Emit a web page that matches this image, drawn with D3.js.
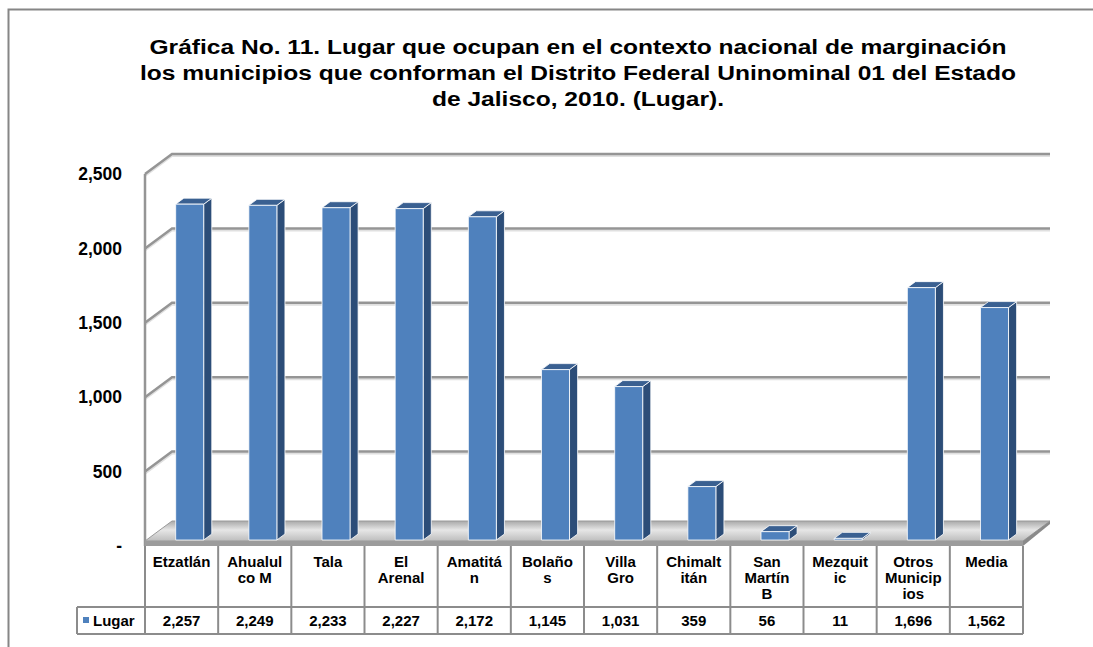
<!DOCTYPE html>
<html>
<head>
<meta charset="utf-8">
<script src="https://cdn.jsdelivr.net/npm/d3@7"></script>
<style>
  body { margin: 0; background: #fff; }
  svg { display: block; font-family: Arial, "Liberation Sans", sans-serif; }
</style>
</head>
<body>
<div id="chart"></div>
<script>
var svgWidth = 1093;
var svgHeight = 647;

var titleLines = [
    "Gráfica No. 11. Lugar que ocupan en el contexto nacional de marginación",
    "los municipios que conforman el Distrito Federal Uninominal 01 del Estado",
    "de Jalisco, 2010. (Lugar)."
];

var categories = ["Etzatlán", "Ahualulco M", "Tala", "El Arenal", "Amatitán", "Bolaños",
    "Villa Gro", "Chimaltitán", "San Martín B", "Mezquitic", "Otros Municipios", "Media"];

// tick labels as they wrap in the table cells
var categoryLines = [["Etzatlán"], ["Ahualul", "co M"], ["Tala"], ["El", "Arenal"], ["Amatitá", "n"],
    ["Bolaño", "s"], ["Villa", "Gro"], ["Chimalt", "itán"], ["San", "Martín", "B"], ["Mezquit", "ic"],
    ["Otros", "Municip", "ios"], ["Media"]];

var lugar = [2257, 2249, 2233, 2227, 2172, 1145, 1031, 359, 56, 11, 1696, 1562];

var seriesName = "Lugar";
var yTicks = [0, 500, 1000, 1500, 2000, 2500];

// plot geometry
var plot = { left: 145, right: 1023, zero: 546, top: 174 };
var depth = { dx: 27, dy: -20 };
var table = { top: 546, mid: 607, bottom: 634, legendLeft: 77 };

var svg = d3.select("#chart")
    .append("svg")
    .attr("width", svgWidth)
    .attr("height", svgHeight);

// outer frame
svg.append("rect")
    .attr("x", 8.5)
    .attr("y", 9.5)
    .attr("width", svgWidth)
    .attr("height", svgHeight)
    .attr("fill", "none")
    .attr("stroke", "#868686")
    .attr("stroke-width", 2);

// title (the original is set a bit wide, so stretch it sideways)
svg.append("g")
    .attr("transform", "translate(578,0) scale(1.17,1)")
    .append("text")
    .attr("x", 0)
    .attr("y", 54)
    .attr("text-anchor", "middle")
    .attr("font-weight", "bold")
    .attr("font-size", 21)
    .attr("fill", "#000")
    .selectAll("tspan")
    .data(titleLines)
    .enter()
    .append("tspan")
    .attr("x", 0)
    .attr("dy", (d, i) => i === 0 ? 0 : 26)
    .text(d => d);

var xScale = d3.scaleBand()
    .domain(categories)
    .range([plot.left, plot.right])
    .padding(0);

var yScale = d3.scaleLinear()
    .domain([0, 2500])
    .range([plot.zero, plot.top]);

// gridlines on the side and back walls
var grid = svg.append("g");
yTicks.filter(d => d > 0).forEach(function (v) {
    var y = yScale(v);
    var p = `M${plot.left},${y} L${plot.left + depth.dx},${y + depth.dy} L${plot.right + depth.dx},${y + depth.dy}`;
    grid.append("path")
        .attr("d", p)
        .attr("transform", "translate(0,2)")
        .attr("fill", "none")
        .attr("stroke", "#e0e0e0")
        .attr("stroke-width", 2);
    grid.append("path")
        .attr("d", p)
        .attr("fill", "none")
        .attr("stroke", "#959595")
        .attr("stroke-width", 2.5);
});

// front edge of side wall
svg.append("line")
    .attr("x1", plot.left)
    .attr("x2", plot.left)
    .attr("y1", yScale(2500))
    .attr("y2", plot.zero)
    .attr("stroke", "#959595")
    .attr("stroke-width", 2.5);

// floor
var defs = svg.append("defs");
var floorGrad = defs.append("linearGradient")
    .attr("id", "floorGrad")
    .attr("x1", 0).attr("y1", 0).attr("x2", 0).attr("y2", 1);
floorGrad.append("stop").attr("offset", "0%").attr("stop-color", "#a9a9a9");
floorGrad.append("stop").attr("offset", "45%").attr("stop-color", "#e6e6e6");
floorGrad.append("stop").attr("offset", "100%").attr("stop-color", "#bdbdbd");

var floorTop = plot.zero - 5;
svg.append("path")
    .attr("d", `M${plot.left},${floorTop} L${plot.right},${floorTop} L${plot.right + depth.dx},${floorTop + depth.dy} L${plot.left + depth.dx},${floorTop + depth.dy} Z`)
    .attr("fill", "url(#floorGrad)")
    .attr("stroke", "#9a9a9a")
    .attr("stroke-width", 1);
svg.append("path")
    .attr("d", `M${plot.left},${floorTop} L${plot.right},${floorTop} L${plot.right},${plot.zero} L${plot.left},${plot.zero} Z`)
    .attr("fill", "#9c9c9c");
svg.append("path")
    .attr("d", `M${plot.right},${floorTop} L${plot.right + depth.dx},${floorTop + depth.dy} L${plot.right + depth.dx},${floorTop + depth.dy + 3} L${plot.right},${plot.zero} Z`)
    .attr("fill", "#8a8a8a");

// bars
var barWidth = 28;
var f1 = 0.3, f2 = 0.6;

function pt(x, v, f) {
    return [x + f * depth.dx, yScale(v) + f * depth.dy];
}

function poly(points) {
    return "M" + points.map(p => p.join(",")).join(" L") + " Z";
}

var bars = svg.append("g")
    .selectAll("g")
    .data(categories.map((c, i) => ({ cat: c, value: lugar[i] })))
    .enter()
    .append("g");

bars.each(function (d) {
    var g = d3.select(this);
    var x0 = xScale(d.cat) + xScale.bandwidth() / 2 - barWidth / 2;
    var x1 = x0 + barWidth;
    // side face
    g.append("path")
        .attr("d", poly([pt(x1, 0, f1), pt(x1, 0, f2), pt(x1, d.value, f2), pt(x1, d.value, f1)]))
        .attr("fill", "#2c4d78")
        .attr("stroke", "#ffffff")
        .attr("stroke-width", 0.8)
        .attr("stroke-linejoin", "round");
    // top face
    g.append("path")
        .attr("d", poly([pt(x0, d.value, f1), pt(x1, d.value, f1), pt(x1, d.value, f2), pt(x0, d.value, f2)]))
        .attr("fill", "#3a6091")
        .attr("stroke", "#ffffff")
        .attr("stroke-width", 0.8)
        .attr("stroke-linejoin", "round");
    // front face
    g.append("path")
        .attr("d", poly([pt(x0, 0, f1), pt(x1, 0, f1), pt(x1, d.value, f1), pt(x0, d.value, f1)]))
        .attr("fill", "#4f81bd")
        .attr("stroke", "#ffffff")
        .attr("stroke-width", 0.8)
        .attr("stroke-linejoin", "round");
});

// value axis
var yAxis = d3.axisLeft(yScale)
    .tickValues(yTicks)
    .tickSize(0)
    .tickPadding(23)
    .tickFormat(d => d === 0 ? "-" : d3.format(",")(d));

var yAxisG = svg.append("g")
    .attr("transform", `translate(${plot.left},0)`)
    .call(yAxis);
yAxisG.select(".domain").remove();
yAxisG.selectAll("text")
    .attr("font-family", "Arial, 'Liberation Sans', sans-serif")
    .attr("font-size", 17.5)
    .attr("font-weight", "bold")
    .attr("fill", "#000");

// data table
var tableG = svg.append("g");
var lineColor = "#8c8c8c";

function hline(x1, x2, y) {
    tableG.append("line")
        .attr("x1", x1).attr("x2", x2).attr("y1", y).attr("y2", y)
        .attr("stroke", lineColor).attr("stroke-width", 2);
}
function vline(x, y1, y2) {
    tableG.append("line")
        .attr("x1", x).attr("x2", x).attr("y1", y1).attr("y2", y2)
        .attr("stroke", lineColor).attr("stroke-width", 2);
}

hline(table.legendLeft, plot.right, table.mid);
hline(table.legendLeft, plot.right, table.bottom);
vline(table.legendLeft, table.mid, table.bottom);
categories.forEach(function (c) {
    vline(xScale(c), table.top, table.bottom);
});
vline(plot.right, table.top, table.bottom);

// category labels
tableG.selectAll(".cat")
    .data(categories)
    .enter()
    .append("text")
    .attr("class", "cat")
    .attr("text-anchor", "middle")
    .attr("font-size", 15)
    .attr("font-weight", "bold")
    .attr("fill", "#000")
    .each(function (c, i) {
        var cx = xScale(c) + xScale.bandwidth() / 2;
        d3.select(this).selectAll("tspan")
            .data(categoryLines[i])
            .enter()
            .append("tspan")
            .attr("x", cx)
            .attr("y", (d, j) => 567 + j * 16)
            .text(d => d);
    });

// values row
tableG.selectAll(".val")
    .data(lugar)
    .enter()
    .append("text")
    .attr("class", "val")
    .attr("x", (d, i) => xScale(categories[i]) + xScale.bandwidth() / 2)
    .attr("y", 626)
    .attr("text-anchor", "middle")
    .attr("font-size", 15)
    .attr("font-weight", "bold")
    .attr("fill", "#000")
    .text(d => d3.format(",")(d));

// legend key
tableG.append("rect")
    .attr("x", 83)
    .attr("y", 617)
    .attr("width", 6)
    .attr("height", 6)
    .attr("fill", "#4f81bd");
tableG.append("text")
    .attr("x", 93)
    .attr("y", 626)
    .attr("font-size", 15)
    .attr("font-weight", "bold")
    .attr("fill", "#000")
    .text(seriesName);
</script>
</body>
</html>
